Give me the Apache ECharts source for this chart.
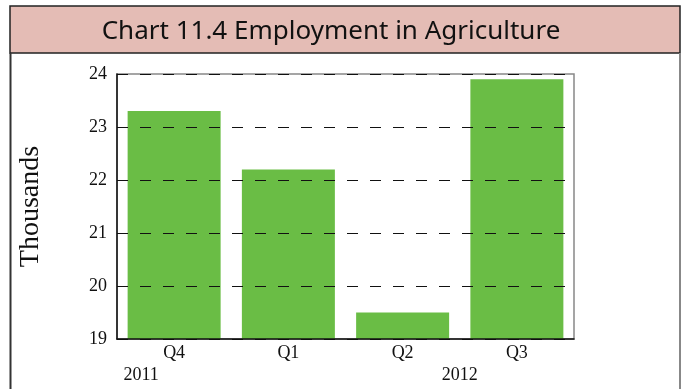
<!DOCTYPE html>
<html>
<head>
<meta charset="utf-8">
<script src="https://cdn.jsdelivr.net/npm/echarts@6/dist/echarts.min.js"></script>
<style>
html,body{margin:0;padding:0;background:#fff;}
#chart{width:688px;height:389px;}
</style>
</head>
<body>
<div id="chart"></div>
<script>
const titleText = 'Chart 11.4 Employment in Agriculture';
const categories = ['Q4', 'Q1', 'Q2', 'Q3'];
const values = [23.3, 22.2, 19.5, 23.9];
const yearLabels = ['2011', '2012'];
const yTicks = { min: 19, max: 24, interval: 1 };
const yName = 'Thousands';

const chart = echarts.init(document.getElementById('chart'));
const serif = '"Liberation Serif", "DejaVu Serif", serif';

chart.setOption({
  animation: false,
  backgroundColor: '#fff',
  grid: {
    left: 117, right: 114, top: 74, bottom: 50,
    show: true, borderColor: '#888', borderWidth: 1.5, backgroundColor: 'transparent'
  },
  xAxis: {
    type: 'category',
    data: categories,
    z: 5,
    axisLine: { lineStyle: { color: '#111', width: 1.5 } },
    axisTick: { inside: true, length: 6, lineStyle: { color: '#111', width: 1 } },
    axisLabel: { fontFamily: serif, fontSize: 18, color: '#111', margin: 5 }
  },
  yAxis: {
    type: 'value',
    min: yTicks.min, max: yTicks.max, interval: yTicks.interval,
    z: 5,
    name: yName,
    nameLocation: 'middle',
    nameGap: 72,
    nameRotate: 90,
    nameTextStyle: { fontFamily: serif, fontSize: 28, color: '#111' },
    axisLine: { show: true, lineStyle: { color: '#111', width: 1.5 } },
    axisTick: { show: false },
    axisLabel: { fontFamily: serif, fontSize: 18, color: '#111', margin: 10 },
    splitLine: { show: true, lineStyle: { color: '#111', type: [11, 12], width: 1.2 } }
  },
  series: [{
    type: 'bar',
    data: values,
    barWidth: 93,
    itemStyle: { color: '#6abd45' },
    z: 2
  }]
});

function addGraphics() {
  const p0 = chart.convertToPixel({ xAxisIndex: 0 }, categories[0]);
  const p2 = chart.convertToPixel({ xAxisIndex: 0 }, categories[2]);
  const p3 = chart.convertToPixel({ xAxisIndex: 0 }, categories[3]);
  chart.setOption({
    graphic: [
      { type: 'rect', z: -10, shape: { x: 10, y: 6, width: 670, height: 47 },
        style: { fill: '#e4bcb5', stroke: '#222', lineWidth: 1.5 } },
      { type: 'line', shape: { x1: 10.5, y1: 53, x2: 10.5, y2: 400 }, style: { stroke: '#333', lineWidth: 2 } },
      { type: 'line', shape: { x1: 680, y1: 53, x2: 680, y2: 400 }, style: { stroke: '#888', lineWidth: 2 } },
      { type: 'text', x: 331, y: 32, style: { text: titleText, fontFamily: '"Noto Sans", sans-serif',
        fontSize: 26, fill: '#111', align: 'center', verticalAlign: 'middle' } },
      { type: 'text', x: p0 - 33, y: 375, style: { text: yearLabels[0], fontFamily: serif,
        fontSize: 18, fill: '#111', align: 'center', verticalAlign: 'middle' } },
      { type: 'text', x: (p2 + p3) / 2, y: 375, style: { text: yearLabels[1], fontFamily: serif,
        fontSize: 18, fill: '#111', align: 'center', verticalAlign: 'middle' } }
    ]
  });
}
addGraphics();
</script>
</body>
</html>
